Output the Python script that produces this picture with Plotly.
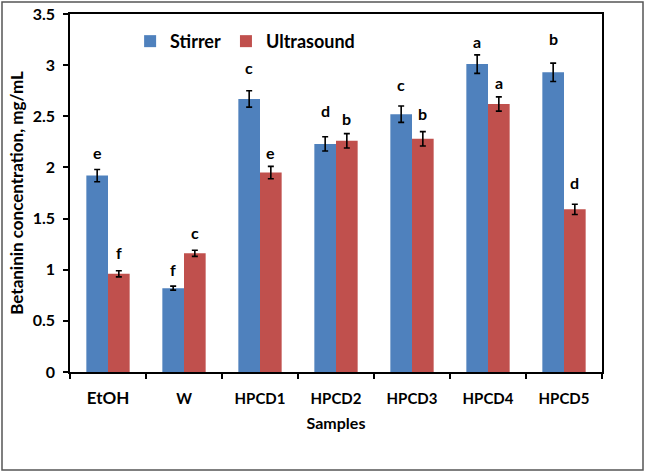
import plotly.graph_objects as go

categories = ["EtOH", "W", "HPCD1", "HPCD2", "HPCD3", "HPCD4", "HPCD5"]
tick_labels = ["<span style='font-size:17px'>EtOH</span>", "W", "HPCD1", "HPCD2", "HPCD3", "HPCD4", "HPCD5"]
stirrer = [1.92, 0.82, 2.67, 2.23, 2.52, 3.01, 2.93]
stirrer_err = [0.06, 0.02, 0.08, 0.07, 0.08, 0.09, 0.09]
ultra = [0.96, 1.16, 1.95, 2.26, 2.28, 2.62, 1.59]
ultra_err = [0.03, 0.03, 0.06, 0.07, 0.07, 0.07, 0.05]
stirrer_letters = ["e", "f", "c", "d", "c", "a", "b"]
ultra_letters = ["f", "c", "e", "b", "b", "a", "d"]
stirrer_letter_y = [2.15, 1.00, 2.98, 2.56, 2.81, 3.23, 3.26]
ultra_letter_y = [1.17, 1.36, 2.15, 2.48, 2.53, 2.83, 1.85]

W, H = 645, 474
ml, mr, mt, mb = 70, 43, 14, 102
bargap = 0.43
pw = W - ml - mr
ph = H - mt - mb
cat_px = pw / len(categories)
bar_px = cat_px * (1 - bargap) / 2

FONT = "Lato"
fig = go.Figure()
fig.add_trace(go.Bar(
    name="Stirrer", x=categories, y=stirrer, marker_color="#4F81BD",
    marker_line_width=0,
    error_y=dict(type="data", array=stirrer_err, color="black", thickness=1.6, width=3),
))
fig.add_trace(go.Bar(
    name="Ultrasound", x=categories, y=ultra, marker_color="#C0504D",
    marker_line_width=0,
    error_y=dict(type="data", array=ultra_err, color="black", thickness=1.6, width=3),
))

ann = []
for i, c in enumerate(categories):
    ann.append(dict(x=c, y=stirrer_letter_y[i], text=stirrer_letters[i], showarrow=False,
                    xshift=-bar_px / 2, font=dict(family=FONT, size=16, color="black", weight="bold")))
    ann.append(dict(x=c, y=ultra_letter_y[i], text=ultra_letters[i], showarrow=False,
                    xshift=bar_px / 2, font=dict(family=FONT, size=16, color="black", weight="bold")))

def px_x(p):
    return (p - ml) / pw

def px_y(p):
    return (H - mb - p) / ph

fig.update_layout(
    width=W, height=H,
    margin=dict(l=ml, r=mr, t=mt, b=mb, autoexpand=False),
    paper_bgcolor="white", plot_bgcolor="white",
    barmode="group", bargap=bargap, bargroupgap=0,
    font=dict(family=FONT, color="black", weight="bold"),
    annotations=ann,
    legend=dict(orientation="h", x=0.113, xanchor="left", y=0.975, yanchor="top",
                font=dict(family=FONT, size=18, color="black", weight="bold"),
                bgcolor="rgba(0,0,0,0)", itemwidth=30),
    xaxis=dict(
        tickmode="array", tickvals=categories, ticktext=tick_labels,
        tickson="boundaries", ticks="outside", ticklen=5, tickcolor="black", tickwidth=1.5,
        ticklabelstandoff=12,
        showline=True, linecolor="black", linewidth=1.5, mirror=True,
        tickfont=dict(family=FONT, size=15, color="black", weight="bold"),
        title=dict(text="Samples", font=dict(family=FONT, size=16, color="black", weight="bold"), standoff=11),
    ),
    yaxis=dict(
        range=[0, 3.5], dtick=0.5, tickformat="~g",
        ticks="outside", ticklen=5, tickcolor="black", tickwidth=1.5,
        ticklabelstandoff=5,
        showline=True, linecolor="black", linewidth=1.5, mirror=True,
        showgrid=False, zeroline=False,
        tickfont=dict(family=FONT, size=16, color="black", weight="bold"),
        title=dict(text="Betaninin concentration, mg/mL",
                   font=dict(family=FONT, size=17, color="black", weight="bold"), standoff=5),
    ),
    shapes=[dict(type="rect", xref="paper", yref="paper",
                 x0=px_x(2), x1=px_x(643), y0=px_y(470), y1=px_y(2),
                 line=dict(color="#555555", width=1.5), layer="below")],
)
fig.write_html("out.html", config={"displayModeBar": False},
               post_script="document.body.style.margin='0px';document.body.style.overflow='hidden';")
